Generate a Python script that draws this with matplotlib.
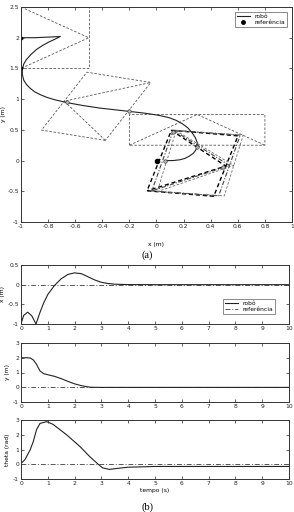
import numpy as np
import matplotlib
matplotlib.use('Agg')
import matplotlib.pyplot as plt
from matplotlib.lines import Line2D

W, H = 294, 512

# trajetoria do robo no plano
traj_x = [-1.0, -0.9, -0.8, -0.71, -0.75, -0.79, -0.84, -0.885, -0.925, -0.96, -0.98,
          -0.99, -0.99, -0.98, -0.96, -0.934, -0.90, -0.86, -0.81, -0.76, -0.665,
          -0.54, -0.42, -0.3, -0.2, -0.1, -0.05, 0.02, 0.09, 0.145, 0.19, 0.23, 0.26,
          0.285, 0.30, 0.30, 0.29, 0.27, 0.24, 0.21, 0.17, 0.12, 0.065]
traj_y = [2.0, 2.0, 2.01, 2.02, 1.975, 1.935, 1.875, 1.81, 1.73, 1.645, 1.57,
          1.49, 1.40, 1.31, 1.24, 1.18, 1.12, 1.075, 1.03, 0.995, 0.945,
          0.895, 0.855, 0.825, 0.80, 0.775, 0.76, 0.735, 0.70, 0.655, 0.60, 0.535, 0.46,
          0.38, 0.30, 0.23, 0.17, 0.115, 0.07, 0.035, 0.012, 0.0, 0.0]

# poses desenhadas (x, y, theta)
pose_x = [-1.0, -0.21, 0.30, 0.02, 0.045, 0.075]
pose_y = [2.0, 0.80, 0.25, 0.0, 0.0, -0.01]
pose_th = [0.0, 2.80, 1.5708, -0.18, -0.16, -0.14]
pose_style = ['thin', 'thin', 'thin', 'thick', 'dashdot', 'light']

# marcadores sobre a trajetoria
mark_x = [-0.2, 0.3, 0.065, 0.12, 0.49, -0.66]
mark_y = [0.8, 0.22, 0.0, 0.46, -0.1, 0.96]
start_x = [-1.0, -1.0]
start_y = [2.0, 1.5]
ref_x = [0.0]
ref_y = [0.0]

# series temporais
t_x = [0, 0.1, 0.25, 0.4, 0.56, 0.7, 0.85, 1.0, 1.25, 1.5, 1.75, 2.0, 2.25, 2.5,
       2.75, 3.0, 3.25, 3.5, 4.0, 5.0, 10.0]
x_t = [-1.0, -0.78, -0.70, -0.79, -1.0, -0.72, -0.46, -0.25, -0.02, 0.15, 0.26, 0.30,
       0.28, 0.20, 0.12, 0.06, 0.03, 0.012, 0.002, 0.0, 0.0]

t_y = [0, 0.2, 0.35, 0.46, 0.58, 0.71, 0.85, 1.02, 1.25, 1.52, 1.75, 2.0, 2.25,
       2.45, 2.6, 3.0, 10.0]
y_t = [2.0, 2.0, 1.98, 1.85, 1.55, 1.1, 0.92, 0.84, 0.74, 0.57, 0.40, 0.23, 0.11,
       0.04, 0.0, -0.01, -0.01]

t_th = [0, 0.15, 0.34, 0.46, 0.58, 0.71, 0.96, 1.2, 1.7, 2.2, 2.57, 2.88, 3.05,
        3.3, 3.6, 4.0, 5.0, 10.0]
th_t = [0.05, 0.32, 0.97, 1.55, 2.35, 2.77, 2.89, 2.7, 2.0, 1.2, 0.51, 0.0, -0.25,
        -0.35, -0.28, -0.2, -0.15, -0.15]

t_ticks = list(range(11))


def ax_px(fig, left, right, top, bottom):
    return fig.add_axes([left / W, 1 - bottom / H, (right - left) / W, (bottom - top) / H])


def style(ax):
    ax.tick_params(direction='in', length=2, width=0.5, labelsize=4.3, pad=1.5,
                   top=True, right=True, colors='#222222')
    for s in ax.spines.values():
        s.set_linewidth(0.7)
        s.set_color('#333333')


def robot_shape(px, py, th):
    c, s = np.cos(th), np.sin(th)
    f = 0.5 * np.array([c, s])
    l = 0.5 * np.array([-s, c])
    p = np.array([px, py])
    b1, b2 = p + l, p - l
    box = np.array([b1, b1 + f, b2 + f, b2, b1])
    tri = np.array([b1, p + f, b2])
    return box, tri


plt.rcParams['font.family'] = ['DejaVu Sans']
fig = plt.figure(figsize=(W / 100, H / 100), dpi=100)

# (a) plano xy
ax1 = ax_px(fig, 21, 292, 7, 222)
styles = {
    'thin': dict(color='#555555', lw=0.6, ls=(0, (3, 2))),
    'thick': dict(color='black', lw=1.0, ls=(0, (3, 2))),
    'dashdot': dict(color='#444444', lw=0.8, ls=(0, (4, 1.5, 1, 1.5))),
    'light': dict(color='#666666', lw=0.6, ls=(0, (3, 2))),
}
for px, py, th, st in zip(pose_x, pose_y, pose_th, pose_style):
    box, tri = robot_shape(px, py, th)
    ax1.plot(box[:, 0], box[:, 1], **styles[st])
    ax1.plot(tri[:, 0], tri[:, 1], **styles[st])

ax1.plot(traj_x, traj_y, color='#222222', lw=0.8)
ax1.plot(mark_x, mark_y, 'o', ms=2.5, mfc='#bbbbbb', mec='#444444', mew=0.5, ls='none')
ax1.plot(start_x, start_y, 's', ms=2, color='black', ls='none')
ax1.plot(ref_x, ref_y, 'o', ms=3, color='black', ls='none')

ax1.set_xlim(-1, 1)
ax1.set_ylim(-1, 2.5)
ax1.set_xticks(np.arange(-1, 1.01, 0.2))
ax1.set_xticklabels(['-1', '-0.8', '-0.6', '-0.4', '-0.2', '0', '0.2', '0.4', '0.6', '0.8', '1'])
ax1.set_yticks(np.arange(-1, 2.51, 0.5))
ax1.set_yticklabels(['-1', '-0.5', '0', '0.5', '1', '1.5', '2', '2.5'])
ax1.set_xlabel('x (m)', fontsize=4.3, labelpad=9)
ax1.set_ylabel('y (m)', fontsize=4.3, labelpad=1)
style(ax1)
h1 = [Line2D([], [], color='#222222', lw=0.8),
      Line2D([], [], marker='o', ms=2.5, color='black', ls='none')]
leg = ax1.legend(h1, ['robô', 'referência'], loc='upper right', fontsize=4.3,
                 frameon=True, fancybox=False, edgecolor='#333333', handlelength=2.2,
                 borderpad=0.3, labelspacing=0.2, borderaxespad=0.8)
leg.get_frame().set_linewidth(0.5)

fig.text(0.5, 1 - 255 / H, '(a)', ha='center', va='center', fontsize=7.5,
         family='Liberation Serif')

# (b) series temporais
panels = [
    (265, 324, t_x, x_t, 'x (m)', (-1, 0.5), [-1, -0.5, 0, 0.5], ['-1', '-0.5', '0', '0.5']),
    (343, 402, t_y, y_t, 'y (m)', (-1, 3), [-1, 0, 1, 2, 3], ['-1', '0', '1', '2', '3']),
    (420, 479, t_th, th_t, 'theta (rad)', (-1, 3), [-1, 0, 1, 2, 3], ['-1', '0', '1', '2', '3']),
]
axes = []
for top, bot, tt, vv, lab, ylim, yt, ytl in panels:
    ax = ax_px(fig, 21, 289, top, bot)
    ax.plot([0, 10], [0, 0], color='#555555', lw=0.7, ls=(0, (5, 2, 1, 2)))
    ax.plot(tt, vv, color='#222222', lw=0.8)
    ax.set_xlim(0, 10)
    ax.set_ylim(*ylim)
    ax.set_xticks(t_ticks)
    ax.set_yticks(yt)
    ax.set_yticklabels(ytl)
    ax.set_ylabel(lab, fontsize=4.3, labelpad=2)
    style(ax)
    axes.append(ax)

h2 = [Line2D([], [], color='#222222', lw=0.8),
      Line2D([], [], color='#555555', lw=0.7, ls=(0, (5, 2, 1, 2)))]
leg2 = axes[0].legend(h2, ['robô', 'referência'], loc='lower right', fontsize=4.3,
                      frameon=True, fancybox=False, edgecolor='#333333', handlelength=2.2,
                      borderpad=0.3, labelspacing=0.2, bbox_to_anchor=(0.96, 0.12))
leg2.get_frame().set_linewidth(0.5)
axes[2].set_xlabel('tempo (s)', fontsize=4.3, labelpad=1.5)

fig.text(0.5, 1 - 507 / H, '(b)', ha='center', va='center', fontsize=7.5,
         family='Liberation Serif')

fig.savefig('out.png', dpi=100)
